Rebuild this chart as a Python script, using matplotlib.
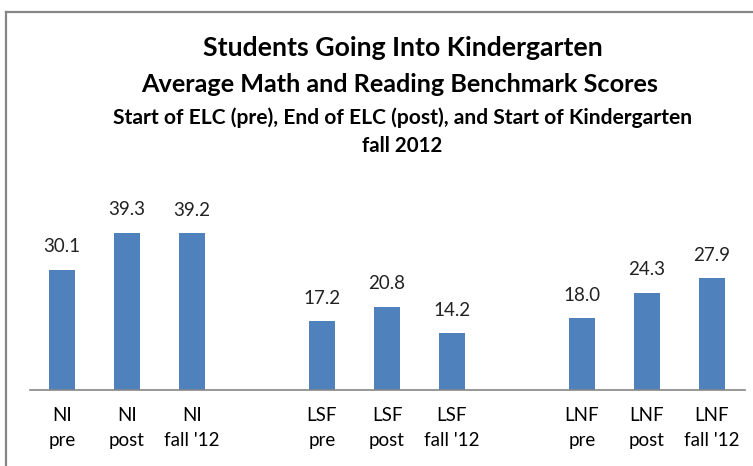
import numpy as np
import matplotlib.pyplot as plt
from matplotlib.lines import Line2D

# bars in order, with empty slots between the three groups
labels = ["NI\npre", "NI\npost", "NI\nfall '12", "",
          "LSF\npre", "LSF\npost", "LSF\nfall '12", "",
          "LNF\npre", "LNF\npost", "LNF\nfall '12"]
scores = [30.1, 39.3, 39.2, None,
          17.2, 20.8, 14.2, None,
          18.0, 24.3, 27.9]

plt.rcParams['font.family'] = ['Lato', 'DejaVu Sans']

fig = plt.figure(figsize=(7.53, 4.66), dpi=100)
W, H = 753, 466
ax = fig.add_axes([29.5 / W, (H - 390) / H, 715 / W, 200 / H])

x = np.arange(len(labels))
for xi, v in zip(x, scores):
    if v is None:
        continue
    ax.bar(xi, v, width=0.4, color='#4F81BD', edgecolor='none')
    ax.text(xi, v + 3.6, f"{v:.1f}", ha='center', va='bottom', fontsize=13.5, color='#222222')

ax.set_xlim(-0.5, len(labels) - 0.5)
ax.set_ylim(0, 50)
ax.set_xticks(x)
ax.set_xticklabels(labels, fontsize=13.5, linespacing=1.6)
ax.tick_params(axis='x', length=0, pad=12)
ax.set_yticks([])
for s in ['top', 'right', 'left']:
    ax.spines[s].set_visible(False)
ax.spines['bottom'].set_color('#868686')
ax.spines['bottom'].set_linewidth(1.2)

# title block
fig.text(403 / W, 1 - 48 / H, "Students Going Into Kindergarten", ha='center', va='center',
         fontsize=19.2, fontweight='bold')
fig.text(400 / W, 1 - 84 / H, "Average Math and Reading Benchmark Scores", ha='center', va='center',
         fontsize=18.2, fontweight='bold')
fig.text(403 / W, 1 - 118 / H, "Start of ELC (pre), End of ELC (post), and Start of Kindergarten",
         ha='center', va='center', fontsize=15.1, fontweight='bold')
fig.text(402 / W, 1 - 146 / H, "fall 2012", ha='center', va='center', fontsize=14.8, fontweight='bold')

# chart frame (top and left edges visible)
fig.add_artist(Line2D([6.5 / W, 6.5 / W], [0, 1 - 11.5 / H], transform=fig.transFigure,
                      color='#868686', lw=1.6))
fig.add_artist(Line2D([6.5 / W, 1], [1 - 11.5 / H, 1 - 11.5 / H], transform=fig.transFigure,
                      color='#868686', lw=1.6))

fig.savefig('out.png', dpi=100)
